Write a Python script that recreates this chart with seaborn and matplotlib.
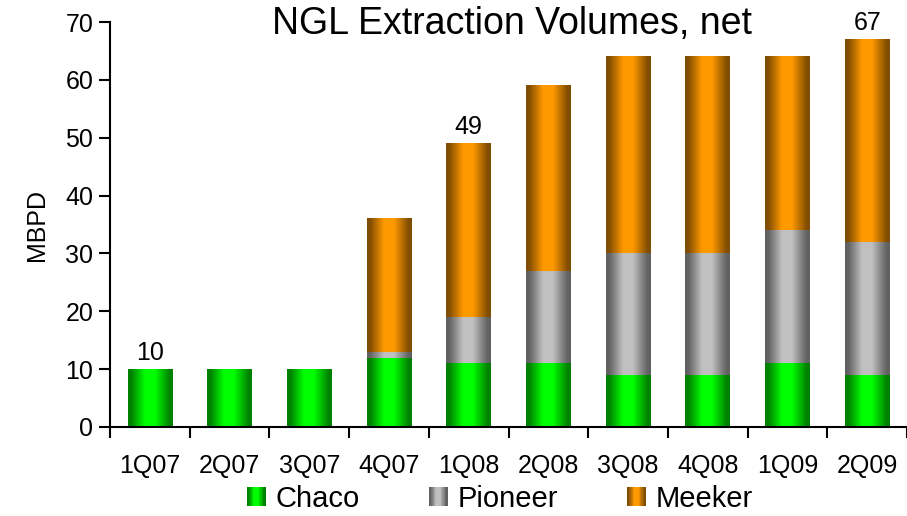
import numpy as np
import pandas as pd
import matplotlib
matplotlib.use("Agg")
import matplotlib.pyplot as plt
import seaborn as sns
from matplotlib.patches import Rectangle
from matplotlib.legend_handler import HandlerBase

quarters = ["1Q07", "2Q07", "3Q07", "4Q07", "1Q08", "2Q08", "3Q08", "4Q08", "1Q09", "2Q09"]
chaco = [10, 10, 10, 12, 11, 11, 9, 9, 11, 9]
pioneer = [0, 0, 0, 1, 8, 16, 21, 21, 23, 23]
meeker = [0, 0, 0, 23, 30, 32, 34, 34, 30, 35]
total_labels = {"1Q07": 10, "1Q08": 49, "2Q09": 67}
series_names = ["Chaco", "Pioneer", "Meeker"]

base_colors = {"Chaco": (0.0, 1.0, 0.0), "Pioneer": (0.753, 0.753, 0.753), "Meeker": (1.0, 0.6, 0.0)}

sns.set_style("white")
plt.rcParams['font.family'] = ['Liberation Sans', 'DejaVu Sans']
plt.rcParams['text.color'] = 'black'
plt.rcParams['axes.labelcolor'] = 'black'
plt.rcParams['xtick.color'] = 'black'
plt.rcParams['ytick.color'] = 'black'

fig = plt.figure(figsize=(9.07, 5.16), dpi=100)
ax = fig.add_axes([110/907, 1 - 427/516, (907-110)/907, (427-22)/516])

df = pd.DataFrame({"quarter": quarters, "Chaco": chaco, "Pioneer": pioneer, "Meeker": meeker})
bottoms = np.zeros(len(quarters))
for name in series_names:
    vals = np.array(df[name], dtype=float)
    sns.barplot(x="quarter", y=name, data=df, ax=ax, color=base_colors[name],
                bottom=bottoms, width=0.56, linewidth=0, order=quarters)
    bottoms = bottoms + vals

PX = [0, 0.08, 0.38, 0.6, 0.92, 1]
PY = [0.5, 0.52, 1.0, 1.0, 0.52, 0.5]
prof = np.interp(np.linspace(0, 1, 200), PX, PY)

def grad_img(rgb):
    c = np.array(rgb)
    return (prof[:, None] * c[None, :])[None, :, :]

patches = list(ax.patches)
n = len(quarters)
for k, p in enumerate(patches):
    name = series_names[k // n]
    x0, y0 = p.get_x(), p.get_y()
    w, h = p.get_width(), p.get_height()
    if h <= 0:
        continue
    ax.imshow(grad_img(base_colors[name]), extent=[x0, x0 + w, y0, y0 + h],
              aspect='auto', zorder=p.get_zorder() + 0.1, interpolation='bilinear')

ax.set_xlim(-0.5, 9.45)
ax.set_ylim(0, 70)
ax.set_yticks(range(0, 71, 10))
ax.set_xticks(range(n))
ax.set_xticklabels(quarters)
ax.set_xlabel("")
ax.set_ylabel("MBPD", fontsize=18, labelpad=12)

for s in ["top", "right"]:
    ax.spines[s].set_visible(False)
for s in ["left", "bottom"]:
    ax.spines[s].set_color("black")
    ax.spines[s].set_linewidth(1.5)

ax.tick_params(axis='y', which='both', left=True, direction='out', length=8, width=1.5,
               labelsize=18, pad=4)
ax.tick_params(axis='x', which='major', bottom=False, labelsize=18, pad=16)
ax.set_xticks(np.arange(-0.5, n, 1.0), minor=True)
ax.tick_params(axis='x', which='minor', bottom=True, direction='out', length=8, width=1.5)

tot = np.array(chaco) + np.array(pioneer) + np.array(meeker)
for i, q in enumerate(quarters):
    if q in total_labels:
        ax.text(i, tot[i] + 0.7, str(total_labels[q]), ha='center', va='bottom', fontsize=18)

fig.text(512/907, 1 - 24/516, "NGL Extraction Volumes, net", ha='center', va='center', fontsize=27)

class GradHandler(HandlerBase):
    def __init__(self, rgb):
        super().__init__()
        self.rgb = rgb
    def create_artists(self, legend, orig_handle, xdescent, ydescent, width, height, fontsize, trans):
        arts = []
        size = width
        x0 = -xdescent
        y0 = -ydescent + (height - size) / 2
        m = 24
        pr = np.interp(np.linspace(0, 1, m), PX, PY)
        for j in range(m):
            c = tuple(np.array(self.rgb) * pr[j])
            r = Rectangle((x0 + j * size / m, y0), size / m * 1.05, size, facecolor=c,
                          edgecolor='none', transform=trans)
            arts.append(r)
        return arts

handles = [Rectangle((0, 0), 1, 1) for _ in series_names]
hmap = {h: GradHandler(base_colors[nm]) for h, nm in zip(handles, series_names)}
fig.legend(handles, series_names, handler_map=hmap, loc='center', bbox_to_anchor=(500/907, 1 - 499/516),
           ncol=3, frameon=False, fontsize=21, handlelength=0.65, handleheight=0.65,
           columnspacing=2.36, handletextpad=0.34, borderpad=0, borderaxespad=0)

fig.savefig("out.png", dpi=100)
